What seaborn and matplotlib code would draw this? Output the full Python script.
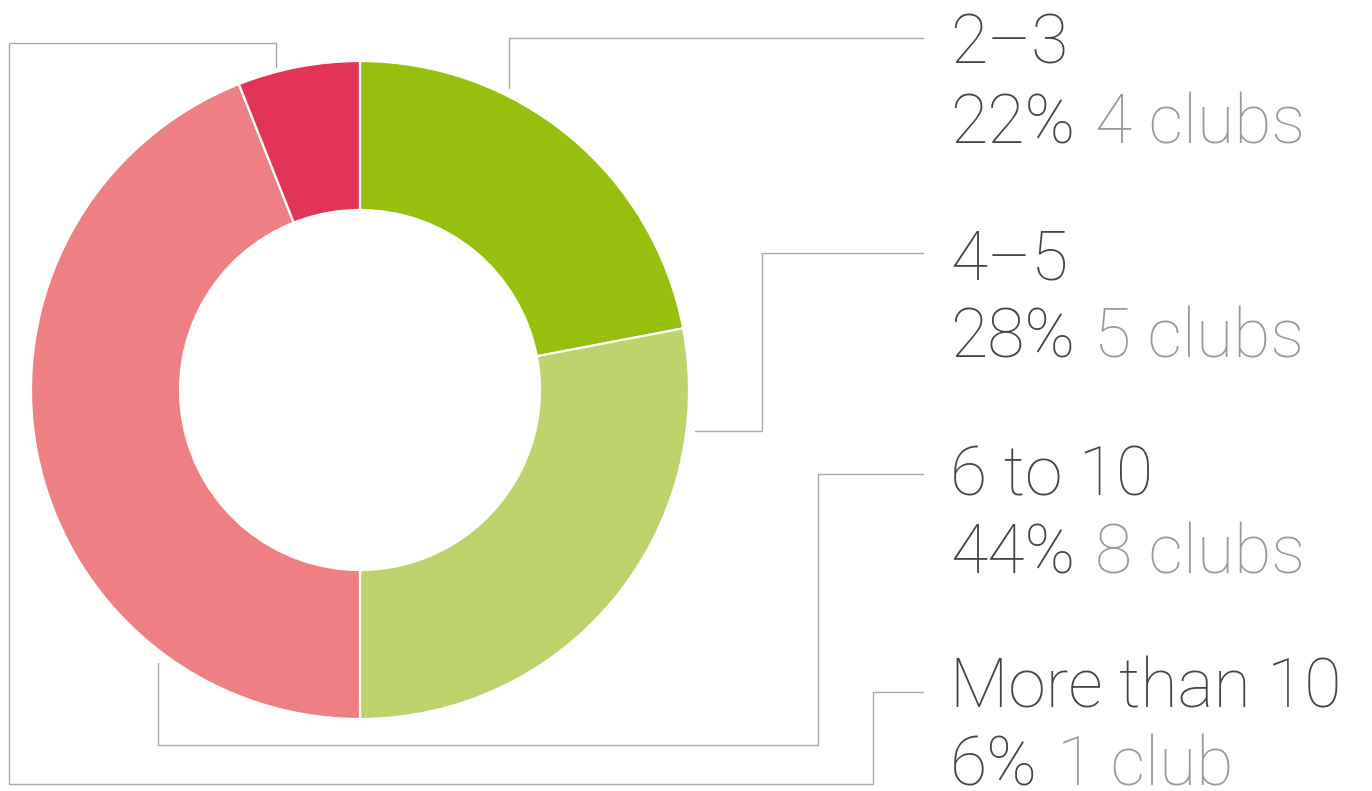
import matplotlib
matplotlib.use("Agg")
import matplotlib.pyplot as plt
import seaborn as sns

sns.set_theme(style="white")
plt.rcParams['font.family'] = ['Roboto', 'DejaVu Sans']

# data
groups = ["2–3", "4–5", "6 to 10", "More than 10"]
percents = [22, 28, 44, 6]
clubs = ["4 clubs", "5 clubs", "8 clubs", "1 club"]
colors = ["#97bf0d", "#bdd36b", "#ee7f83", "#e33458"]

W, H = 1372, 791
fig = plt.figure(figsize=(W / 100, H / 100), dpi=100)
ax = fig.add_axes([0, 0, 1, 1])

cx, cy, R, ring = 360, 390, 329, 149
ax.pie(percents, colors=colors, center=(cx, cy), radius=R,
       startangle=-90, counterclock=True,
       wedgeprops=dict(width=ring, edgecolor="white", linewidth=1.6))

ax.set_xlim(0, W)
ax.set_ylim(H, 0)
ax.set_aspect("auto")
ax.axis("off")

# leader lines (layout only)
leaders = [
    [(509, 88), (509, 38), (923, 38)],
    [(695, 431), (762, 431), (762, 253), (923, 253)],
    [(158, 663), (158, 745), (818, 745), (818, 474), (923, 474)],
    [(276, 67), (276, 43), (9, 43), (9, 784), (873, 784), (873, 692), (923, 692)],
]
for pts in leaders:
    xs, ys = zip(*pts)
    ax.plot(xs, ys, color="#a9a9a9", lw=1.0, solid_joinstyle="miter")

baselines = [(63, 143), (280, 358), (495, 573), (708, 786)]
fs = 49
wt = 200
for g, p, c, (b1, b2) in zip(groups, percents, clubs, baselines):
    ax.text(950, b1, g, fontsize=fs, fontweight=wt, color="#444444", va="baseline")
    t = ax.text(950, b2, f"{p}%", fontsize=fs, fontweight=wt, color="#444444", va="baseline")
    ax.annotate(c, xy=(1, 0), xycoords=t, xytext=(14, 0), textcoords="offset points",
                fontsize=fs, fontweight=wt, color="#999999", va="bottom")

fig.savefig("out.png", dpi=100, facecolor="white")
